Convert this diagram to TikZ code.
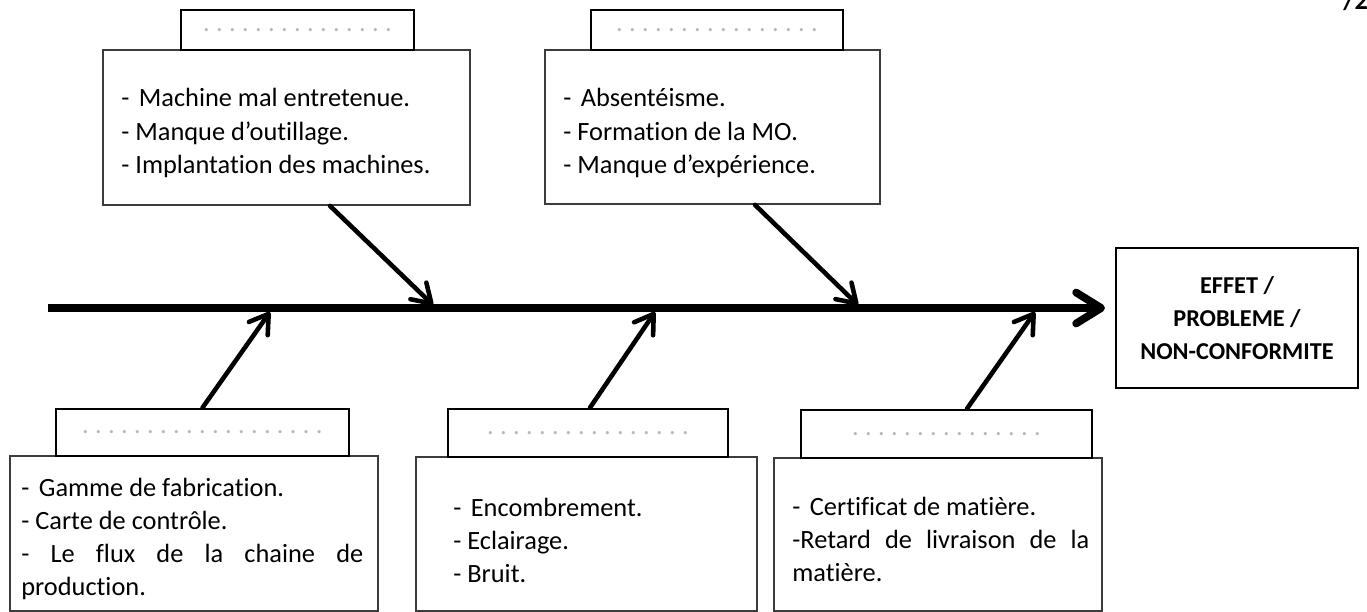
\documentclass[tikz,border=0pt]{standalone}
\usepackage{fontspec}
\setmainfont{Carlito}[Ligatures=NoCommon]
\usetikzlibrary{arrows.meta}

\definecolor{dotgray}{RGB}{185,185,185}
\definecolor{boxgray}{RGB}{60,60,60}
% row of grey dots for the empty category titles
\newcommand{\pointilles}[1]{\foreach \k in {1,...,#1}{\makebox[7.4pt]{.}}}

\begin{document}
\begin{tikzpicture}[x=0.02cm, y=-0.02cm,
    labelbox/.style={draw, fill=white, line width=1.5pt, inner sep=0pt, minimum height=0.8cm, text=dotgray, font=\fontsize{15}{18}\selectfont},
    causebox/.style={draw=boxgray, line width=1pt, inner sep=0pt},
    causetext/.style={anchor=west, align=left, inner sep=0pt, font=\fontsize{15}{18.8}\selectfont},
    branch/.style={line width=2.6pt, line cap=round, -{Straight Barb[length=0.36cm, width=0.46cm, round]}},
    spine/.style={line width=4.4pt, -{Straight Barb[length=0.5cm, width=0.62cm, round]}}]
    \useasboundingbox (0,0) rectangle (1367,612);

    % Cut page number
    \node[anchor=base west, inner sep=0pt, font=\bfseries\fontsize{15}{18}\selectfont] (pagefrag) at (1343,10) {/2};

    % Spine and effect
    \node[draw, line width=1.5pt, minimum width=4.84cm, minimum height=2.8cm, align=center,
          font=\bfseries\fontsize{13.8}{18.8}\selectfont] (effet) at (1237,318) {EFFET /\\ PROBLEME /\\ NON-CONFORMITE};
    \coordinate (tail) at (48,308);
    \coordinate (head) at (1105,308);
    \draw[spine] (tail) -- (head);

    % Top left: machines
    \node[causebox, minimum width=7.34cm, minimum height=3.1cm] (machines) at (286.5,127.5) {};
    \node[labelbox, minimum width=4.66cm] (lblmachines) at (297.5,30) {\pointilles{15}};
    \node[causetext] (txtmachines) at (121,133) {-\kern2pt\ Machine mal entretenue.\\- Manque d'outillage.\\- Implantation des machines.};

    % Top right: personnel
    \node[causebox, minimum width=6.7cm, minimum height=3.08cm] (personnel) at (712.5,127) {};
    \node[labelbox, minimum width=5.04cm] (lblpersonnel) at (717,30) {\pointilles{16}};
    \node[causetext] (txtpersonnel) at (563,133) {-\kern2pt\ Absentéisme.\\- Formation de la MO.\\- Manque d'expérience.};

    % Bottom left: methodes
    \node[causebox, minimum width=7.36cm, minimum height=3.1cm] (methodes) at (194,533.5) {};
    \node[labelbox, minimum width=5.86cm, minimum height=0.94cm] (lblmethodes) at (202.5,432.5) {\pointilles{19}};
    \node[causetext] (txtmethodes) at (21,539) {-\kern2pt\ Gamme de fabrication.\\- Carte de contrôle.\\\makebox[6.84cm][s]{- Le flux de la chaine de}\\production.};

    % Bottom middle: milieu
    \node[causebox, minimum width=6.82cm, minimum height=3.08cm] (milieu) at (586.5,534) {};
    \node[labelbox, minimum width=5.6cm, minimum height=0.96cm] (lblmilieu) at (588,433) {\pointilles{16}};
    \node[causetext] (txtmilieu) at (453,540) {-\kern2pt\ Encombrement.\\- Eclairage.\\- Bruit.};

    % Bottom right: matiere
    \node[causebox, minimum width=6.56cm, minimum height=3.06cm] (matiere) at (938,534.5) {};
    \node[labelbox, minimum width=5.82cm, minimum height=0.96cm] (lblmatiere) at (946.5,434) {\pointilles{15}};
    \node[causetext] (txtmatiere) at (792,539) {-\kern2pt\ Certificat de matière.\\\makebox[5.94cm][s]{-Retard de livraison de la}\\matière.};

    % Branches onto the spine
    \coordinate (j1) at (433,305);
    \coordinate (j2) at (858,305);
    \coordinate (j3) at (270,312);
    \coordinate (j4) at (655,312);
    \coordinate (j5) at (1035,312);
    \draw[branch] ([xshift=0.87cm]machines.south) -- (j1);
    \draw[branch] ([xshift=0.85cm]personnel.south) -- (j2);
    \draw[branch] (lblmethodes.north) -- (j3);
    \draw[branch] ([xshift=0.04cm]lblmilieu.north) -- (j4);
    \draw[branch] ([xshift=0.41cm]lblmatiere.north) -- (j5);
\end{tikzpicture}
\end{document}
